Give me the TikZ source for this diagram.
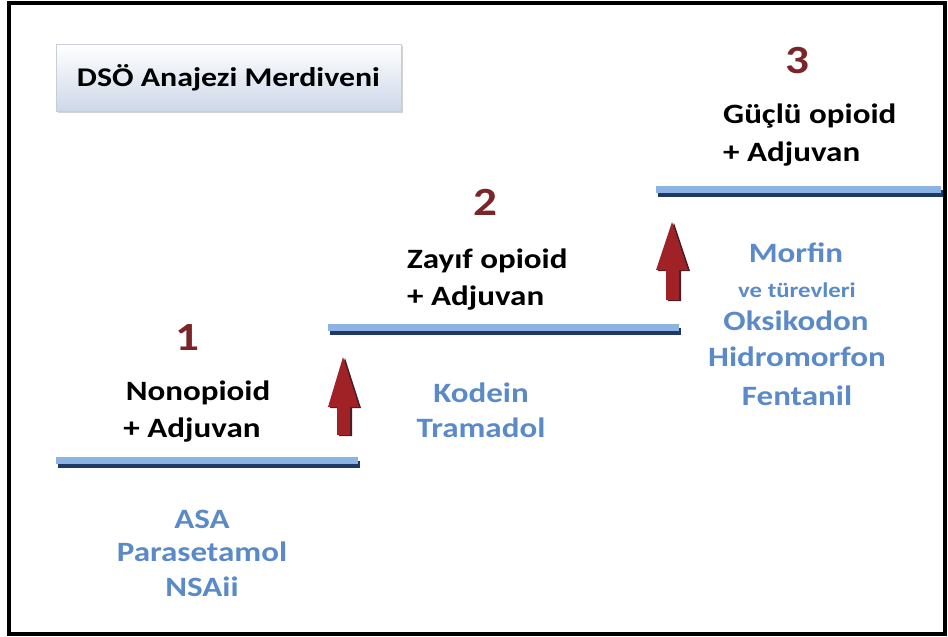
\documentclass[tikz,border=0pt]{standalone}
\usepackage{fontspec}
\setmainfont{Carlito}[FakeStretch=1.18]
\usetikzlibrary{shadows}
\definecolor{txtblue}{RGB}{90,138,200}
\definecolor{stepred}{RGB}{122,38,40}
\definecolor{barlight}{RGB}{141,179,226}
\definecolor{bardark}{RGB}{31,56,100}
\definecolor{arrowred}{RGB}{160,34,38}
\definecolor{arrowdark}{RGB}{70,30,35}
\definecolor{boxedge}{RGB}{200,205,215}
\definecolor{boxbottom}{RGB}{205,216,232}
\begin{document}
\begin{tikzpicture}[x=1pt,y=-1pt,
  lbl/.style={font=\bfseries\fontsize{28}{34}\selectfont, inner sep=0pt, anchor=base},
  lbll/.style={lbl, anchor=base west},
  drug/.style={lbl, text=txtblue},
  num/.style={font=\bfseries\fontsize{40}{44}\selectfont, text=stepred, inner sep=0pt, anchor=base},
  barshadow/.style={draw=bardark, line width=7pt},
  bartop/.style={draw=barlight, line width=7pt},
  arrshadow/.style={fill=arrowdark},
  arrbody/.style={fill=arrowred},
]
\useasboundingbox (0,0) rectangle (948,637);
\draw[line width=4pt] (9,3) rectangle (945,634);

% title
\node[draw=boxedge, top color=white, bottom color=boxbottom,
      minimum width=345pt, minimum height=67pt, inner sep=0pt,
      drop shadow={shadow xshift=2pt, shadow yshift=-2pt, opacity=0.35},
      font=\bfseries\fontsize{27}{32}\selectfont] (title) at (228.5,77.5) {DSÖ Anajezi Merdiveni};

% bars
\coordinate (b1s) at (56,460); \coordinate (b1e) at (358,460);
\coordinate (b2s) at (328,327); \coordinate (b2e) at (679,327);
\coordinate (b3s) at (656,189); \coordinate (b3e) at (941,189);
\foreach \s/\e in {b1s/b1e, b2s/b2e, b3s/b3e}{
  \draw[barshadow] ([shift={(1.5,4.5)}]\s) -- ([shift={(1.5,4.5)}]\e);
  \draw[bartop] (\s) -- (\e);
}

% arrows
\fill[arrshadow, shift={(2,1)}] (343,357) -- (359,407) -- (350,407) -- (350,435) -- (337,435) -- (337,407) -- (328,407) -- cycle;
\fill[arrbody] (343,357) -- (359,407) -- (350,407) -- (350,435) -- (337,435) -- (337,407) -- (328,407) -- cycle;
\fill[arrshadow, shift={(2,1)}] (672,222) -- (688,270) -- (679,270) -- (679,300) -- (666,300) -- (666,270) -- (656,270) -- cycle;
\fill[arrbody] (672,222) -- (688,270) -- (679,270) -- (679,300) -- (666,300) -- (666,270) -- (656,270) -- cycle;

% step numbers
\node[num] (n1) at (187,350) {1};
\node[num] (n2) at (485,215) {2};
\node[num] (n3) at (797,73) {3};

% step labels
\node[lbl] (s1a) at (198,400) {Nonopioid};
\node[lbl] (s1b) at (192,437) {+ Adjuvan};
\node[lbll] (s2a) at (407,268) {Zayıf opioid};
\node[lbll] (s2b) at (407,305) {+ Adjuvan};
\node[lbll] (s3a) at (723,123) {Güçlü opioid};
\node[lbll] (s3b) at (723,161) {+ Adjuvan};

% drugs
\node[drug] (d1a) at (202,528) {ASA};
\node[drug] (d1b) at (202,561) {Parasetamol};
\node[drug] (d1c) at (202,596) {NSAii};
\node[drug] (d2a) at (481,402) {Kodein};
\node[drug] (d2b) at (481,437) {Tramadol};
\node[drug] (d3a) at (796,262) {Morfin};
\node[drug, font=\bfseries\fontsize{21}{25}\selectfont] (d3b) at (797,297) {ve türevleri};
\node[drug] (d3c) at (796,330) {Oksikodon};
\node[drug] (d3d) at (797,366) {Hidromorfon};
\node[drug] (d3e) at (797,405) {Fentanil};
\end{tikzpicture}
\end{document}
